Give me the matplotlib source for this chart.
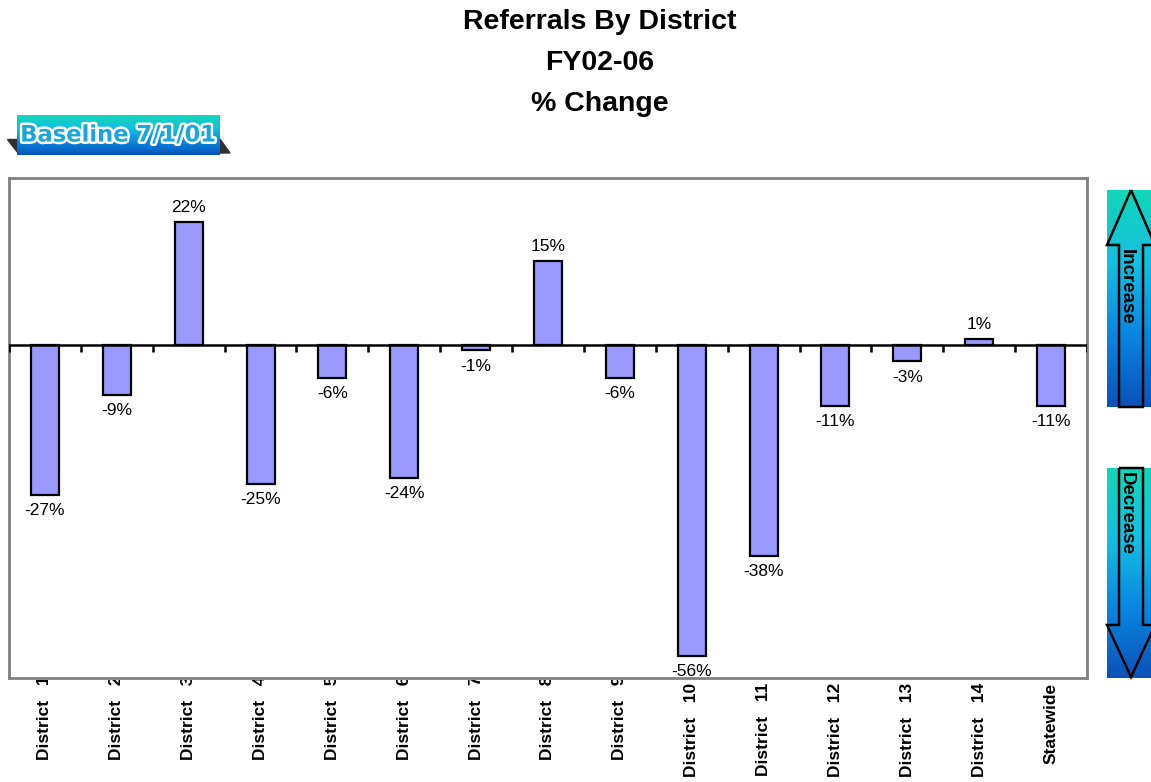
import numpy as np
import matplotlib
matplotlib.use("Agg")
import matplotlib.pyplot as plt
from matplotlib.patches import Polygon
from matplotlib.transforms import Bbox, TransformedBbox, blended_transform_factory
from matplotlib import font_manager
import matplotlib.patheffects as pe

plt.rcParams['font.family'] = ['Liberation Sans', 'DejaVu Sans']

# data
districts = ['District   1', 'District   2', 'District   3', 'District   4', 'District   5',
             'District   6', 'District   7', 'District   8', 'District   9', 'District   10',
             'District   11', 'District   12', 'District   13', 'District   14', 'Statewide']
pct_change = [-27, -9, 22, -25, -6, -24, -1, 15, -6, -56, -38, -11, -3, 1, -11]

W, H = 1151, 782
fig = plt.figure(figsize=(W / 100, H / 100), dpi=100)

def fx(px):
    return px / W

def fy(py):
    return 1 - py / H

# main axes (pixel box 9..1087 x 178..678)
ax = fig.add_axes([fx(9), fy(678), fx(1087) - fx(9), fy(178) - fy(678)])
x = np.arange(len(districts))
ax.bar(x, pct_change, width=0.39, color='#9999ff', edgecolor='black', linewidth=1.6, zorder=3)
ax.set_xlim(-0.5, len(districts) - 0.5)
ax.set_ylim(-60, 30)
ax.axhline(0, color='black', lw=1.8, zorder=4)
# category separator ticks hanging from the zero line
ax.vlines(np.arange(len(districts) + 1) - 0.5, -1.3, 0, color='black', lw=1.8, zorder=4)
ax.set_xticks([])
ax.set_yticks([])
for s in ax.spines.values():
    s.set_color('#808080')
    s.set_linewidth(2)

for xi, v in zip(x, pct_change):
    if v >= 0:
        ax.annotate(f'{v}%', (xi, v), xytext=(0, 5), textcoords='offset points',
                    ha='center', va='bottom', fontsize=12.5, zorder=5)
    else:
        ax.annotate(f'{v}%', (xi, v), xytext=(0, -6), textcoords='offset points',
                    ha='center', va='top', fontsize=12.5, zorder=5)

# category labels under the frame (top edge clipped like the original)
clip = TransformedBbox(Bbox([[0, 0], [1, fy(680)]]), fig.transFigure)
lab_tr = blended_transform_factory(ax.transData, fig.transFigure)
for xi, lab in zip(x, districts):
    top = 683 if (lab[-2:].isdigit() or lab == 'Statewide') else 676
    t = ax.text(xi, fy(top), lab, transform=lab_tr, rotation=90, ha='center', va='top',
                fontsize=12.5, fontweight='bold')
    t.set_clip_box(clip)
    t.set_clip_on(True)

# title
for i, line in enumerate(['Referrals By District', 'FY02-06', '% Change']):
    fig.text(fx(600), fy(22 + 41 * i), line, ha='center', va='center',
             fontsize=20.5, fontweight='bold')

# gradient helper
grad = np.linspace(0, 1, 256).reshape(-1, 1)
cmap = matplotlib.colors.LinearSegmentedColormap.from_list(
    'tb', ['#12d6b8', '#14bfe0', '#0a86e0', '#0a52b8'])

def grad_box(x0, y0, x1, y1):
    a = fig.add_axes([fx(x0), fy(y1), fx(x1) - fx(x0), fy(y0) - fy(y1)])
    a.imshow(grad, aspect='auto', cmap=cmap, extent=(x0, x1, y1, y0))
    a.set_xlim(x0, x1)
    a.set_ylim(y1, y0)
    a.axis('off')
    return a

# baseline badge
overlay = fig.add_axes([0, 0, 1, 1], facecolor='none')
overlay.set_xlim(0, W)
overlay.set_ylim(H, 0)
overlay.axis('off')
overlay.add_patch(Polygon([[7, 139], [18, 139], [18, 153]], closed=True, color='#303030', zorder=1))
overlay.add_patch(Polygon([[220, 139], [230, 153], [220, 153]], closed=True, color='#303030', zorder=1))
grad_box(17, 115, 220, 155)

names = {f.name for f in font_manager.fontManager.ttflist}
badge_fam = [n for n in ['Liberation Sans Narrow', 'DejaVu Sans Condensed'] if n in names] + ['DejaVu Sans']
badge = fig.text(fx(118), fy(135), 'Baseline 7/1/01', ha='center', va='center', fontsize=26,
                 fontweight='bold', color='#1aa6dc', family=badge_fam[0],
                 path_effects=[pe.withStroke(linewidth=3.5, foreground='white')])
# shrink to fit the badge width
r = fig.canvas.get_renderer()
bw = badge.get_window_extent(r).width
if bw > 196:
    badge.set_fontsize(26 * 196 / bw)

# increase / decrease arrows
a1 = grad_box(1107, 190, 1151, 407)
a1.add_patch(Polygon([[1131, 190], [1107, 245], [1119, 245], [1119, 407], [1143, 407],
                      [1143, 245], [1155, 245]], closed=True, fill=False, edgecolor='black',
                     lw=1.8, clip_on=False))
a1.text(1126, 249, 'Increase', rotation=-90, ha='center', va='top', fontsize=13.5,
        fontweight='bold')
a2 = grad_box(1107, 468, 1151, 678)
a2.add_patch(Polygon([[1119, 468], [1143, 468], [1143, 625], [1155, 625], [1131, 677],
                      [1107, 625], [1119, 625]], closed=True, fill=False, edgecolor='black',
                     lw=1.8, clip_on=False))
a2.text(1126, 472, 'Decrease', rotation=-90, ha='center', va='top', fontsize=13.5,
        fontweight='bold')

fig.savefig('out.png', dpi=100)
